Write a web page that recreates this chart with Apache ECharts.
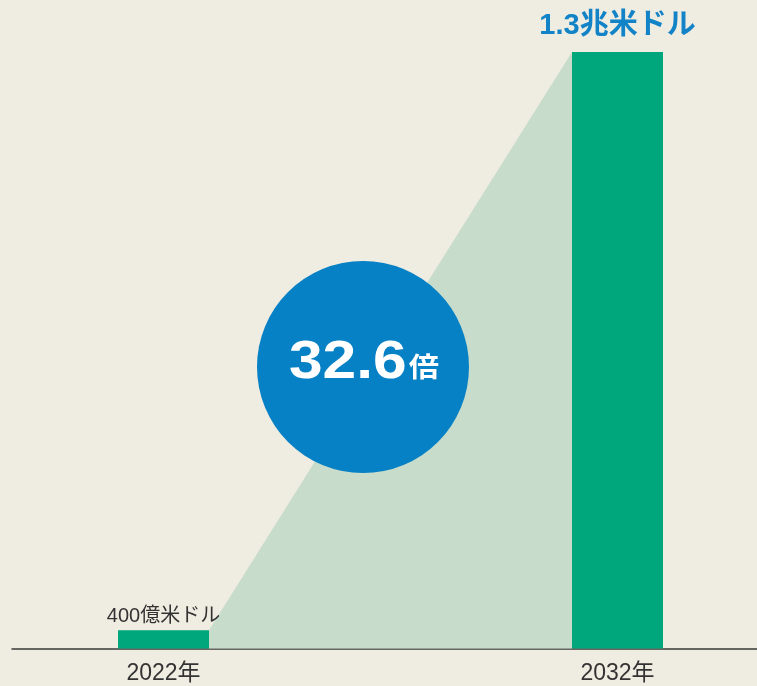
<!DOCTYPE html>
<html><head><meta charset="utf-8">
<script src="https://cdn.jsdelivr.net/npm/echarts@6/dist/echarts.min.js"></script>
<style>html,body{margin:0;padding:0;background:#efece1;}#c{width:757px;height:686px;}</style>
</head><body><div id="c"></div>
<script>
const categories = ['2022年', '2032年'];
const values = [0.04, 1.3];            // 兆米ドル
const valueLabels = ['400億米ドル', '1.3兆米ドル'];
const growthValue = '32.6';
const growthUnit = '倍';

const FONT = '"Liberation Sans", "Noto Sans CJK JP", sans-serif';
const BAR_W = 91;
const chart = echarts.init(document.getElementById('c'));
chart.setOption({
  backgroundColor: '#efece1',
  animation: false,
  grid: [
    {left: 163.5, right: 139.5, top: 52, bottom: 37.5},
    {left: 12, right: 0, top: 52, bottom: 37.5}
  ],
  xAxis: [
    {type: 'value', min: 0, max: categories.length - 1, interval: 1, gridIndex: 0,
     splitLine: {show: false},
     axisLine: {show: false}, axisTick: {show: false},
     axisLabel: {color: '#333', fontSize: 23, fontFamily: FONT, margin: 14,
                 formatter: v => categories[v] || ''}},
    {type: 'category', data: [''], gridIndex: 1,
     axisLine: {show: true, lineStyle: {color: '#3a3a3a', width: 1.5}},
     axisTick: {show: false}, axisLabel: {show: false}}
  ],
  yAxis: [
    {type: 'value', min: 0, max: 1.3, gridIndex: 0, show: false},
    {type: 'value', min: 0, max: 1.3, gridIndex: 1, show: false}
  ],
  series: [
    {
      type: 'custom', xAxisIndex: 0, yAxisIndex: 0, z: 1,
      data: [[0, values[0], 1, values[1]]],
      renderItem: function (params, api) {
        const p1 = api.coord([api.value(0), api.value(1)]);
        const p2 = api.coord([api.value(2), api.value(3)]);
        const base = api.coord([0, 0])[1];
        const hw = BAR_W / 2;
        return {
          type: 'polygon',
          shape: {points: [[p1[0] + hw, p1[1]], [p2[0] - hw, p2[1]], [p2[0] - hw, base], [p1[0] + hw, base]]},
          style: {fill: '#c8dccb'}
        };
      }
    },
    {
      type: 'bar', xAxisIndex: 0, yAxisIndex: 0, z: 2,
      barWidth: BAR_W,
      data: values.map((v, i) => ({
        value: [i, v],
        label: i === 0
          ? {show: true, position: 'top', distance: 4, formatter: valueLabels[i], color: '#333', fontSize: 20, fontFamily: FONT}
          : {show: true, position: 'top', distance: 11, formatter: valueLabels[i], color: '#1383c8', fontSize: 29, fontWeight: 'bold', fontFamily: FONT}
      })),
      itemStyle: {color: '#00a67c'}
    },
    {
      type: 'line', xAxisIndex: 1, yAxisIndex: 1, data: [], silent: true
    }
  ],
  graphic: [
    {type: 'circle', shape: {cx: 363, cy: 367, r: 106}, style: {fill: '#0681c5'}, z: 10},
    {type: 'text', x: 364, y: 390, scaleX: 1.12, z: 11,
     style: {
       text: '{a|' + growthValue + '}{b|' + growthUnit + '}',
       align: 'center', verticalAlign: 'bottom', fill: '#fff',
       rich: {
         a: {fontSize: 54, fontWeight: 'bold', fill: '#fff', fontFamily: FONT},
         b: {fontSize: 27, fontWeight: 'bold', fill: '#fff', fontFamily: FONT, padding: [14, 0, 0, 2]}
       }
     }}
  ]
});
</script>
</body></html>
